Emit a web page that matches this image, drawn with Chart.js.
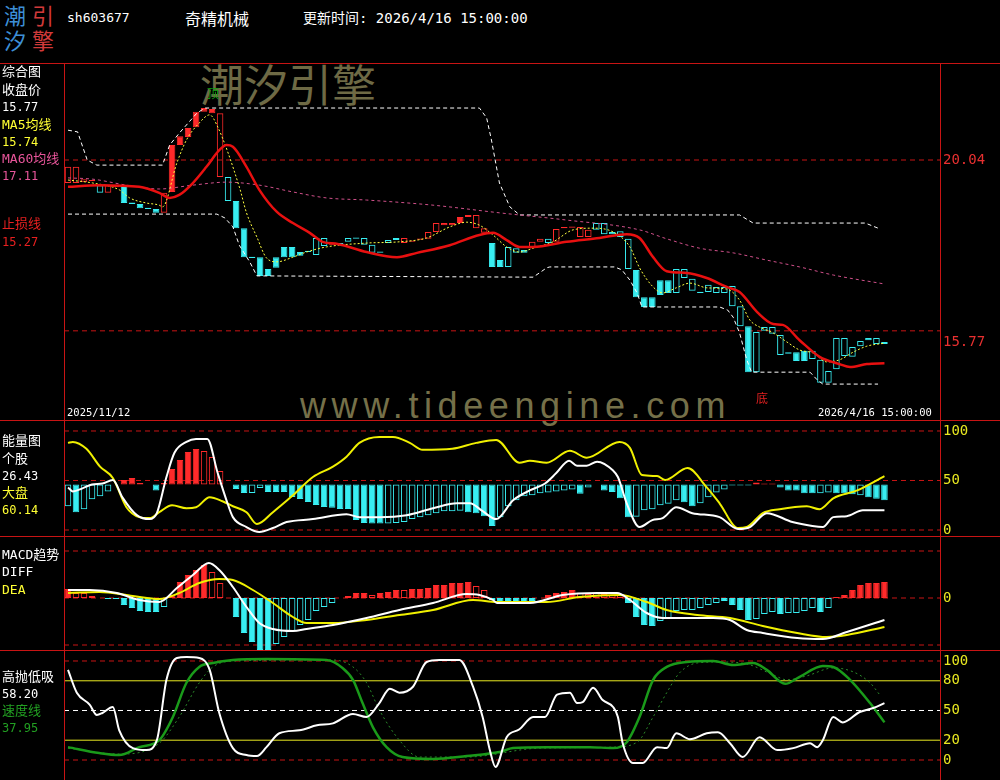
<!DOCTYPE html>
<html>
<head>
<meta charset="utf-8">
<title>奇精机械 sh603677</title>
<script src="https://cdn.jsdelivr.net/npm/chart.js@4.4.1/dist/chart.umd.min.js"></script>
<style>
  body { margin: 0; background: #000; }
  #wrap { position: relative; width: 1000px; height: 780px; overflow: hidden; background: #000;
          font-family: "DejaVu Sans Mono", "Noto Sans CJK SC", monospace; }
  .t { position: absolute; white-space: nowrap; font-size: 13px; line-height: 16px; }
  canvas { position: absolute; left: 0; }
  .hl { position: absolute; left: 0; width: 1000px; height: 1px; background: #c81414; }
  .vl { position: absolute; top: 63px; width: 1px; height: 717px; background: #c81414; }
</style>
</head>
<body>
<div id="wrap">
  <!-- logo + header -->
  <div class="t" style="left:4px;top:2px;font-size:22px;line-height:25px;color:#3d8fd6;font-family:'Noto Sans CJK SC'">潮<br>汐</div>
  <div class="t" style="left:32px;top:2px;font-size:22px;line-height:25px;color:#d23a3a;font-family:'Noto Sans CJK SC'">引<br>擎</div>
  <div class="t" style="left:67px;top:10px;color:#fff;font-size:13px">sh603677</div>
  <div class="t" style="left:185px;top:9px;color:#fff;font-size:16px;line-height:18px;font-family:'Noto Sans CJK SC'">奇精机械</div>
  <div class="t" style="left:303px;top:10px;color:#fff;font-size:14px">更新时间: 2026/4/16 15:00:00</div>

  <!-- watermarks -->
  <div class="t" style="left:200px;top:58px;font-size:44px;line-height:50px;color:#6e6a45;font-family:'Noto Sans CJK SC'">潮汐引擎</div>
  <div class="t" style="left:300px;top:384px;font-size:36px;line-height:44px;letter-spacing:5.6px;color:#757049;font-family:'Liberation Sans'">www.tideengine.com</div>

  <canvas id="cMain" width="1000" height="357" style="top:63px"></canvas>
  <canvas id="cVol" width="1000" height="116" style="top:420px"></canvas>
  <canvas id="cMacd" width="1000" height="114" style="top:536px"></canvas>
  <canvas id="cKdj" width="1000" height="130" style="top:650px"></canvas>

  <div class="hl" style="top:63px"></div>
  <div class="hl" style="top:420px"></div>
  <div class="hl" style="top:536px"></div>
  <div class="hl" style="top:650px"></div>
  <div class="vl" style="left:64px"></div>

  <!-- left legends -->
  <div class="t" style="left:2px;top:64px;color:#fff">综合图</div>
  <div class="t" style="left:2px;top:82px;color:#fff">收盘价</div>
  <div class="t" style="left:2px;top:99px;color:#fff;font-size:12px">15.77</div>
  <div class="t" style="left:2px;top:117px;color:#ffff33">MA5均线</div>
  <div class="t" style="left:2px;top:134px;color:#ffff33;font-size:12px">15.74</div>
  <div class="t" style="left:2px;top:151px;color:#e8559a">MA60均线</div>
  <div class="t" style="left:2px;top:168px;color:#e8559a;font-size:12px">17.11</div>
  <div class="t" style="left:2px;top:216px;color:#e82020">止损线</div>
  <div class="t" style="left:2px;top:234px;color:#e82020;font-size:12px">15.27</div>

  <div class="t" style="left:2px;top:433px;color:#fff">能量图</div>
  <div class="t" style="left:2px;top:451px;color:#fff">个股</div>
  <div class="t" style="left:2px;top:468px;color:#fff;font-size:12px">26.43</div>
  <div class="t" style="left:2px;top:485px;color:#ffff33">大盘</div>
  <div class="t" style="left:2px;top:502px;color:#ffff33;font-size:12px">60.14</div>

  <div class="t" style="left:2px;top:547px;color:#fff">MACD趋势</div>
  <div class="t" style="left:2px;top:564px;color:#fff">DIFF</div>
  <div class="t" style="left:2px;top:582px;color:#ffff33">DEA</div>

  <div class="t" style="left:2px;top:669px;color:#fff">高抛低吸</div>
  <div class="t" style="left:2px;top:686px;color:#fff;font-size:12px">58.20</div>
  <div class="t" style="left:2px;top:703px;color:#22a022">速度线</div>
  <div class="t" style="left:2px;top:720px;color:#22a022;font-size:12px">37.95</div>

  <!-- marks inside the main panel -->
  <div class="t" style="left:207px;top:85px;color:#10a010;font-size:12px;font-family:'Noto Sans CJK SC'">顶</div>
  <div class="t" style="left:756px;top:390px;color:#e02020;font-size:12px;font-family:'Noto Sans CJK SC'">底</div>
  <div class="t" style="left:67px;top:404px;color:#fff;font-size:10.5px">2025/11/12</div>
  <div class="t" style="left:818px;top:404px;color:#fff;font-size:10.5px">2026/4/16 15:00:00</div>
</div>

<script>
// x = trading day index, 0 .. 102
const X0 = -0.5, X1 = 108.94;

// candle bodies (price), kind: R/C colour + H(ollow)/F(illed)
const bodyHi = [19.88,19.88,19.59,19.57,19.45,19.45,19.43,19.43,19.04,19.01,
  18.92,18.89,19.27,20.39,20.60,20.79,21.17,21.26,21.24,21.14,
  19.64,19.08,18.44,17.77,17.76,17.48,17.76,18.00,18.00,17.88,
  17.91,18.21,18.21,18.08,18.09,18.21,18.22,18.21,18.05,17.89,
  18.16,18.21,18.21,18.15,18.20,18.35,18.56,18.56,18.56,18.70,
  18.75,18.75,18.44,18.09,17.69,18.00,17.97,17.93,18.12,18.19,
  18.19,18.42,18.47,18.48,18.47,18.40,18.56,18.56,18.35,18.37,
  18.19,17.46,16.82,16.82,17.22,17.22,17.48,17.48,17.25,16.95,
  17.11,17.06,17.06,17.08,16.61,16.14,16.00,16.12,16.12,15.93,
  15.53,15.53,15.56,15.56,15.35,15.09,15.86,15.86,15.65,15.79,
  15.86,15.86,15.77];
const bodyLo = [19.50,19.50,19.52,19.54,19.27,19.27,19.40,19.03,19.01,18.91,
  18.89,18.80,18.80,19.29,20.39,20.58,20.81,21.17,21.14,19.64,
  19.08,18.44,17.76,17.74,17.32,17.32,17.51,17.76,17.76,17.79,
  17.88,17.81,18.02,18.05,18.05,18.12,18.19,18.05,17.86,17.86,
  18.09,18.16,18.09,18.12,18.17,18.19,18.35,18.51,18.51,18.56,
  18.70,18.44,18.33,17.53,17.53,17.53,17.86,17.86,17.97,18.12,
  18.09,18.12,18.44,18.45,18.23,18.23,18.40,18.30,18.30,18.23,
  17.48,16.82,16.59,16.59,16.87,16.92,16.92,17.27,16.97,16.92,
  16.94,16.92,16.92,16.61,16.14,15.06,15.06,16.03,15.96,15.46,
  15.49,15.32,15.32,15.37,14.81,14.81,15.13,15.44,15.42,15.67,
  15.81,15.72,15.72];
const candleKind = ["RH","RH","RH","RF","CH","RH","RF","CF","CF","CF",
  "CF","CF","RH","RF","RF","RF","RF","RF","RF","RH",
  "CH","CF","CF","CF","CF","CF","CF","CF","CF","CF",
  "CF","CH","CH","RF","CH","CH","CF","CH","CH","CF",
  "CH","CF","RH","RF","RF","RH","RH","RF","RH","RF",
  "RF","RH","RH","CF","CF","CH","CH","CF","RH","RH",
  "CH","RH","RF","RF","RH","RH","CH","CH","CF","CH",
  "CH","CF","CF","CF","CF","CF","CH","CH","CH","CF",
  "CH","CH","CH","CH","CH","CF","CH","CH","CH","CH",
  "CH","CF","CF","CH","CH","CH","CH","CH","CH","CH",
  "CF","CH","CH"];

// main panel lines [index, price]
const stopLine = [[0,19.41],[3.9,19.45],[8.9,19.41],[11.4,19.27],[12.7,19.15],[13.9,19.22],[15.6,19.50],
  [17.3,19.88],[18.9,20.27],[19.8,20.39],[20.6,20.35],[22.3,19.88],[23.9,19.34],[26.1,18.82],[28.1,18.56],
  [30.2,18.33],[31.8,18.12],[33.7,18.07],[37.3,17.88],[41.1,17.76],[43.6,17.86],[47.7,18.04],[51.4,18.28],
  [53.1,18.33],[54.8,18.16],[56.4,18.00],[58.1,18.00],[62.3,18.12],[66.4,18.21],[69.8,18.30],[71.4,18.21],
  [73.1,17.76],[74.8,17.43],[77.3,17.39],[79.8,17.27],[82.3,17.06],[83.9,16.94],[86.1,16.47],[88.1,16.19],
  [89.3,16.17],[91.4,15.81],[93.9,15.42],[96.4,15.25],[97.7,15.18],[99.8,15.25],[102,15.27]];
const ma5 = [[0,19.57],[3.1,19.50],[6.4,19.34],[7.7,19.15],[9.8,19.03],[11.4,18.98],[11.8,18.94],[13.6,19.97],
  [14.8,20.51],[16.4,20.91],[17.7,21.10],[18.6,20.86],[21.4,19.41],[22.3,18.80],[23.6,18.23],[24.8,17.74],
  [26.1,17.65],[28.1,17.76],[29.8,17.88],[32.3,18.00],[37.3,18.09],[41.4,18.12],[44.8,18.21],[47.7,18.47],
  [49.8,18.58],[51.4,18.51],[53.1,18.28],[54.8,18.00],[56.4,17.88],[58.1,17.97],[60.6,18.12],[63.1,18.40],
  [65.6,18.44],[68.1,18.35],[70.2,18.00],[71.4,17.51],[73.1,17.06],[74.3,16.92],[76,17.04],[77.7,17.15],
  [79.8,17.04],[82.3,17.01],[83.9,16.75],[85.2,16.28],[86.4,16.12],[88.1,15.98],[89.8,15.77],[91.4,15.58],
  [93.1,15.51],[94.8,15.30],[96.4,15.35],[98.1,15.53],[99.8,15.67],[102,15.74]];
const ma60 = [[0,19.62],[3.1,19.59],[7.3,19.45],[11.4,19.36],[15.6,19.45],[19.8,19.52],[23.9,19.45],[28.1,19.29],
  [32.3,19.15],[37.3,19.10],[45.6,18.98],[53.9,18.80],[62.3,18.63],[71.4,18.40],[74.8,18.19],[78.9,17.97],
  [83.1,17.86],[87.3,17.69],[91.4,17.53],[95.6,17.34],[102,17.13]];
const upperBand = [[0,20.74],[1.2,20.70],[2.4,20.04],[3.6,19.92],[11.8,19.92],[12.7,20.39],[13.9,20.67],
  [16.1,21.14],[17.1,21.26],[51.4,21.26],[52.3,21.03],[52.9,20.51],[53.9,19.50],[55.2,18.94],[56.1,18.80],
  [56.4,18.75],[83.9,18.75],[85.6,18.56],[99.6,18.56],[101.2,18.44]];
const lowerBand = [[0,18.77],[18.6,18.77],[19.6,18.68],[20.6,18.47],[21.4,18.04],[22.7,17.65],[23.6,17.32],
  [58.1,17.29],[58.9,17.39],[59.8,17.51],[60.2,17.53],[68.3,17.53],[69.2,17.46],[70.2,17.22],[71.1,16.92],
  [71.7,16.59],[81.4,16.59],[82.4,16.52],[83.1,16.35],[83.9,15.98],[84.8,15.35],[85.4,15.06],[92.7,15.06],
  [93.6,14.88],[94.3,14.78],[101.2,14.78]];
const mainLevels = [20.04, 16.03];
const mainTicks = [20.04, 15.77];

// energy panel
const volBase = 46;
const volVal = [24,18,21,31,34,39,null,50.5,52.5,47.5,
  null,40,47.5,61.6,70.7,78.8,81.8,79.8,73.7,59.6,
  null,41.4,37.4,37.4,42.4,38.4,38.4,38.4,33.3,31.3,
  28.3,25.3,23.2,22.5,21.2,21.2,10.1,7,6.5,6.5,
  6.5,7,8,11,13,15,17,19,19,19.5,
  18,17,14,4,13,24,30,34,35,37,
  38,39,40,41,36.5,43,null,40,38.5,32,
  13,13.5,20,21,25,26.5,30,28,24,27,
  33,38,41,45,45,45,48,47,47,43,
  40,40,37,37,37,38,37,37,36,35,
  33,31.5,30];
const volKind = ["CH","CF","CH","CH","CH","CH","","RF","RF","RF",
  "","CF","RF","RF","RF","RF","RF","RH","RH","RH",
  "","CF","CF","CH","CH","CF","CF","CF","CF","CF",
  "CF","CF","CF","CF","CF","CF","CF","CF","CF","CF",
  "CH","CH","CH","CH","CH","CH","CH","CH","CH","CH",
  "CF","CF","CF","CF","CH","CH","CH","CH","CH","CH",
  "CH","CH","CH","CH","CF","CH","","CF","CF","CF",
  "CF","CH","CH","CH","CH","CH","CH","CF","CF","CH",
  "CH","CH","CH","CF","CF","CF","RF","RF","RF","CF",
  "CF","CF","CF","CF","CH","CH","CF","CF","CF","CH",
  "CF","CF","CF"];
const stockLine = [[0,43],[0.6,39],[1.8,42],[3,46],[4.3,47],[5.6,50.5],[6.8,33],[8.6,15],[10.2,11],[11.1,17],
  [12.3,53.5],[13.3,78],[14.8,89],[16,92],[17.4,92],[18.7,57.5],[19.8,30],[20.6,13],[22.3,3],[23.9,-2],
  [25.6,2],[27.3,8],[30.6,11],[34.8,16],[36.4,13],[38.9,13],[42.3,15],[45.6,22],[48.6,27],[50.2,27],
  [51.8,19],[53.5,11],[55.6,30],[57.7,40],[59.6,47],[61,57.5],[62.6,70],[63.6,65],[64.8,65],[66.1,69],
  [68.1,60],[68.7,53.5],[69.8,27],[71.4,3],[73,10],[74.3,12],[76,23],[78,17],[81.4,13],[83.7,1],
  [85.2,3],[87.3,17],[90.5,8],[93,4],[94.3,3],[95.6,13],[97.3,14],[99.3,20],[102,20]];
const marketLine = [[0,88],[0.6,89],[2.3,82],[4,64],[5.6,52.5],[7.3,23],[8.9,13],[10.2,12],[11.4,18],[13,25],
  [14.8,22],[16,23],[17.7,33],[19.3,29],[20.6,24],[22.3,18],[23.6,6],[25.6,18],[28.1,35],[30.6,53.5],
  [33.1,64],[34.8,74],[36.4,88],[38.9,94],[40.6,94],[42.7,88],[44.3,81],[48,82],[51,88],[53.5,91],
  [56.4,68],[57.7,70],[59.8,68],[62.7,80],[64.8,73],[68.9,89],[70.2,83],[71.7,55.5],[73.6,54.5],[74.6,50.5],
  [77.4,62.6],[79.8,43],[81.4,27],[83.7,2],[84.8,3],[86.8,17],[88.9,21],[92.3,24],[93.9,21],[95.6,32],
  [98.6,40],[102,54.5]];
const volLevels = [100, 50, 0];

// MACD panel
const macdVal = [0.09,0.05,0.05,0.02,null,-0.01,-0.01,-0.07,-0.10,-0.13,
  -0.14,-0.14,-0.09,0.03,0.16,0.23,0.28,0.33,0.26,0.15,
  null,-0.19,-0.35,-0.44,-0.52,-0.52,-0.46,-0.39,-0.33,-0.27,
  -0.22,-0.13,-0.09,-0.05,null,0.02,0.05,0.05,0.03,0.05,
  0.06,0.08,0.08,0.09,0.09,0.10,0.13,0.13,0.15,0.15,
  0.16,0.12,0.08,-0.02,-0.05,-0.03,-0.05,-0.04,-0.03,null,
  0.03,0.05,0.06,0.08,0.05,0.04,0.05,0.04,0.03,0.03,
  -0.05,-0.19,-0.27,-0.28,-0.23,-0.21,-0.13,-0.12,-0.12,-0.10,
  -0.07,-0.05,-0.03,-0.07,-0.12,-0.22,-0.21,-0.16,-0.14,-0.16,
  -0.15,-0.15,-0.13,-0.10,-0.14,-0.10,0.01,0.03,0.08,0.13,
  0.15,0.15,0.16];
const macdKind = ["RF","RH","RH","RH","","CF","CF","CF","CF","CF",
  "CF","CF","CH","RF","RF","RF","RF","RF","RH","RH",
  "","CF","CF","CF","CF","CF","CH","CH","CH","CH",
  "CH","CH","CH","CH","","RF","RF","RF","RH","RF",
  "RF","RF","RH","RF","RF","RF","RF","RF","RF","RF",
  "RF","RH","RH","CF","CF","CF","CF","CF","CF","",
  "RF","RF","RF","RF","RH","RH","RH","RH","RH","RH",
  "CF","CF","CF","CF","CH","CH","CH","CH","CH","CH",
  "CH","CH","CF","CF","CF","CF","CH","CH","CH","CF",
  "CH","CH","CH","CH","CF","CH","RF","RF","RF","RF",
  "RF","RF","RF"];
const diff = [[0,0.08],[2.7,0.08],[6.1,0.05],[8.9,-0.02],[11.4,-0.04],[13.6,0.10],[15.6,0.23],[17.6,0.35],
  [18.9,0.28],[20.6,0.11],[22.3,-0.09],[23.9,-0.25],[25.6,-0.31],[28.1,-0.33],[29.8,-0.31],[33.1,-0.27],
  [37.3,-0.20],[41.4,-0.12],[45.6,-0.05],[49.8,0.04],[51.4,0.03],[53.1,-0.02],[53.6,-0.05],[57.7,-0.05],
  [61.8,0.03],[66.1,0.05],[68.6,0.05],[70.2,-0.02],[72.3,-0.15],[74.3,-0.20],[76.4,-0.20],[80.6,-0.20],
  [82.7,-0.22],[84.8,-0.32],[86.8,-0.35],[91.1,-0.40],[94.3,-0.41],[97.3,-0.34],[102,-0.22]];
const dea = [[0,0.05],[3.9,0.06],[8.1,0.02],[11.4,-0.01],[13.9,0.05],[16.4,0.15],[18.9,0.19],[20.6,0.18],
  [23.1,0.08],[25.6,-0.05],[28.1,-0.19],[29.8,-0.25],[33.1,-0.25],[37.3,-0.22],[41.4,-0.17],[45.6,-0.12],
  [50.6,-0.02],[53.6,-0.04],[59.8,-0.04],[63.9,0.01],[68.9,0.03],[72.3,-0.04],[74.8,-0.12],[78.6,-0.17],
  [82.7,-0.20],[86.8,-0.28],[91.1,-0.35],[94.8,-0.39],[97.3,-0.37],[102,-0.29]];
const macdLevels = [0.47, 0, -0.47];

// 高抛低吸 panel
const swingLine = [[0,91],[1.1,68],[2.7,56],[3.6,45.5],[4.3,47.5],[5.6,53.5],[6.4,30],[8.1,12],[9.8,10],[11.1,20],
  [12.3,81],[13.6,103],[14.8,104],[16.4,103],[17.7,91],[18.9,47.5],[20.6,12],[22.3,5],[23.6,4],[24.8,13],
  [26.4,27],[28.9,30],[31.1,35],[33.1,37],[35.6,46.5],[37.3,43.5],[38.9,57.5],[40.2,72],[41.4,68],[43.1,74],
  [44.8,99],[46.4,101],[48.9,101],[50.6,74],[51.8,43.5],[52.7,10],[53.4,-7],[54.8,23],[56.4,31],[58.1,43.5],
  [59.6,43.5],[61.1,66],[62.7,68],[63.6,57.5],[64.3,58.5],[65.6,73],[66.8,60.6],[68.1,53.5],[68.7,43.5],[69.3,17],
  [70.6,-3],[71.8,-3],[73.6,13],[74.8,12],[76,27],[77.7,21],[79.8,27],[81.2,28],[82.7,17],[84.3,3],
  [86.4,23],[88.6,10],[90.6,12],[92.7,17],[93.6,13],[94.3,20],[95.6,43.5],[96.8,38],[98.9,48.5],[100.6,52.5],
  [102,57.5]];
const speedLine = [[0,13],[3.9,7],[6.4,5],[8.9,13],[11.4,20],[13.1,43.5],[14.8,78],[16.4,94],[18.1,98],[20.6,101],
  [24.8,102],[32.3,101],[34.3,93],[35.6,81],[36.8,57.5],[38.1,33],[39.8,13],[41.8,3],[45.6,1],[49.8,4],
  [53.9,8],[55.6,12],[59.8,13],[65.2,13],[68.1,12],[69.8,18],[71.4,43.5],[73.1,81],[74.8,94],[77.3,99],
  [80.6,100],[83.1,96],[85.6,98],[87.3,91],[89.6,77],[91.4,84],[94.3,95],[95.6,94],[97.7,81],[100.2,57.5],
  [102,38]];
const speedSlow = [[0,12],[6.4,6],[11.4,17],[13.9,43.5],[16.4,78],[18.1,94],[20.6,100],[33.1,101],[35.6,94],
  [37.3,78],[38.9,50.5],[41.4,20],[43.9,3],[49.8,3],[59,12],[68.1,13],[71.1,18],[73.1,43.5],[74.8,68],
  [76.4,88],[78.6,98],[81.4,99],[84.8,97],[88.1,86],[89.8,81],[92.3,85],[95.6,93],[98.1,89],[100.2,78],
  [101.4,66]];
const swingTicks = [100, 80, 50, 20, 0];

const col = { R: "#ff2a2a", C: "#38eef2" };
const RED_DASH = "#c81414";

function barSet(vals, kinds, base) {
  const data = [];
  vals.forEach((v, i) => {
    if (v == null) return;
    data.push({ x: i, y: [base, v], k: kinds[i] });
  });
  return {
    type: "bar",
    data: data,
    backgroundColor: (ctx) => (ctx.raw && ctx.raw.k[1] === "F") ? col[ctx.raw.k[0]] : "rgba(0,0,0,0)",
    borderColor: (ctx) => ctx.raw ? col[ctx.raw.k[0]] : col.C,
    borderWidth: 1,
    borderSkipped: false,
    barPercentage: 0.82,
    categoryPercentage: 1,
    grouped: false,
    order: 10,
  };
}

function candleSet() {
  const ds = barSet([], [], 0);
  ds.data = bodyHi.map((h, i) => ({ x: i, y: [bodyLo[i], h], k: candleKind[i] }));
  return ds;
}

function lineSet(pts, color, width, dash, smooth, order) {
  return {
    type: "line",
    data: pts.map((p) => ({ x: p[0], y: p[1] })),
    borderColor: color,
    borderWidth: width,
    borderDash: dash || [],
    pointRadius: 0,
    fill: false,
    tension: 0,
    cubicInterpolationMode: smooth ? "monotone" : "default",
    order: order || 1,
  };
}

function levelSet(v, color, dash) {
  return lineSet([[X0, v], [X1, v]], color, 1, dash, false, 20);
}

function panel(id, datasets, yMin, yMax, tickVals, tickColor, fmt) {
  new Chart(document.getElementById(id), {
    type: "bar",
    data: { datasets: datasets },
    options: {
      responsive: false,
      devicePixelRatio: 1,
      animation: false,
      events: [],
      layout: { padding: { left: 64, right: 0, top: 0, bottom: 0 }, autoPadding: false },
      plugins: { legend: { display: false }, tooltip: { enabled: false } },
      scales: {
        x: { type: "linear", min: X0, max: X1, display: false, offset: false },
        y: {
          position: "right",
          min: yMin,
          max: yMax,
          afterFit: (s) => { s.width = 60; s.paddingTop = 0; s.paddingBottom = 0; },
          afterBuildTicks: (s) => { s.ticks = tickVals.map((v) => ({ value: v })); },
          ticks: {
            color: tickColor,
            autoSkip: false,
            padding: 3,
            font: { family: "DejaVu Sans Mono", size: 14 },
            callback: fmt,
          },
          grid: { display: false, drawTicks: false },
          border: { display: true, color: RED_DASH, width: 1 },
        },
      },
    },
  });
}

// main price panel
panel("cMain", [
  lineSet(stopLine, "#e81010", 2.5, [], true, 1),
  lineSet(ma5, "#ffff40", 1, [2, 2], true, 2),
  lineSet(ma60, "#d0508a", 1, [3, 3], true, 3),
  lineSet(upperBand, "#ffffff", 1, [4, 3], false, 4),
  lineSet(lowerBand, "#ffffff", 1, [4, 3], false, 4),
  candleSet(),
  ...mainLevels.map((v) => levelSet(v, RED_DASH, [5, 4])),
], 13.937, 22.317, mainTicks, "#e83030", (v) => v.toFixed(2));

// energy panel
panel("cVol", [
  lineSet(stockLine, "#ffffff", 2, [], true, 1),
  lineSet(marketLine, "#f0f000", 2, [], true, 2),
  barSet(volVal, volKind, volBase),
  ...volLevels.map((v) => levelSet(v, RED_DASH, [5, 4])),
], -6.06, 111.1, volLevels, "#e8e820", (v) => String(v));

// MACD panel
panel("cMacd", [
  lineSet(diff, "#ffffff", 2, [], true, 1),
  lineSet(dea, "#f0f000", 2, [], true, 2),
  barSet(macdVal, macdKind, 0),
  ...macdLevels.map((v) => levelSet(v, RED_DASH, [5, 4])),
], -0.52, 0.62, [0], "#e8e820", () => "0");

// 高抛低吸 panel
panel("cKdj", [
  lineSet(swingLine, "#ffffff", 2, [], true, 1),
  lineSet(speedLine, "#1a9a1a", 2.5, [], true, 2),
  lineSet(speedSlow, "#2a8a2a", 1, [2, 3], true, 3),
  levelSet(100, RED_DASH, [5, 4]),
  levelSet(0, RED_DASH, [5, 4]),
  levelSet(80, "#e8e820", []),
  levelSet(20, "#e8e820", []),
  levelSet(50, "#ffffff", [5, 4]),
], -20.2, 111.1, swingTicks, "#e8e820", (v) => String(v));
</script>
</body>
</html>
